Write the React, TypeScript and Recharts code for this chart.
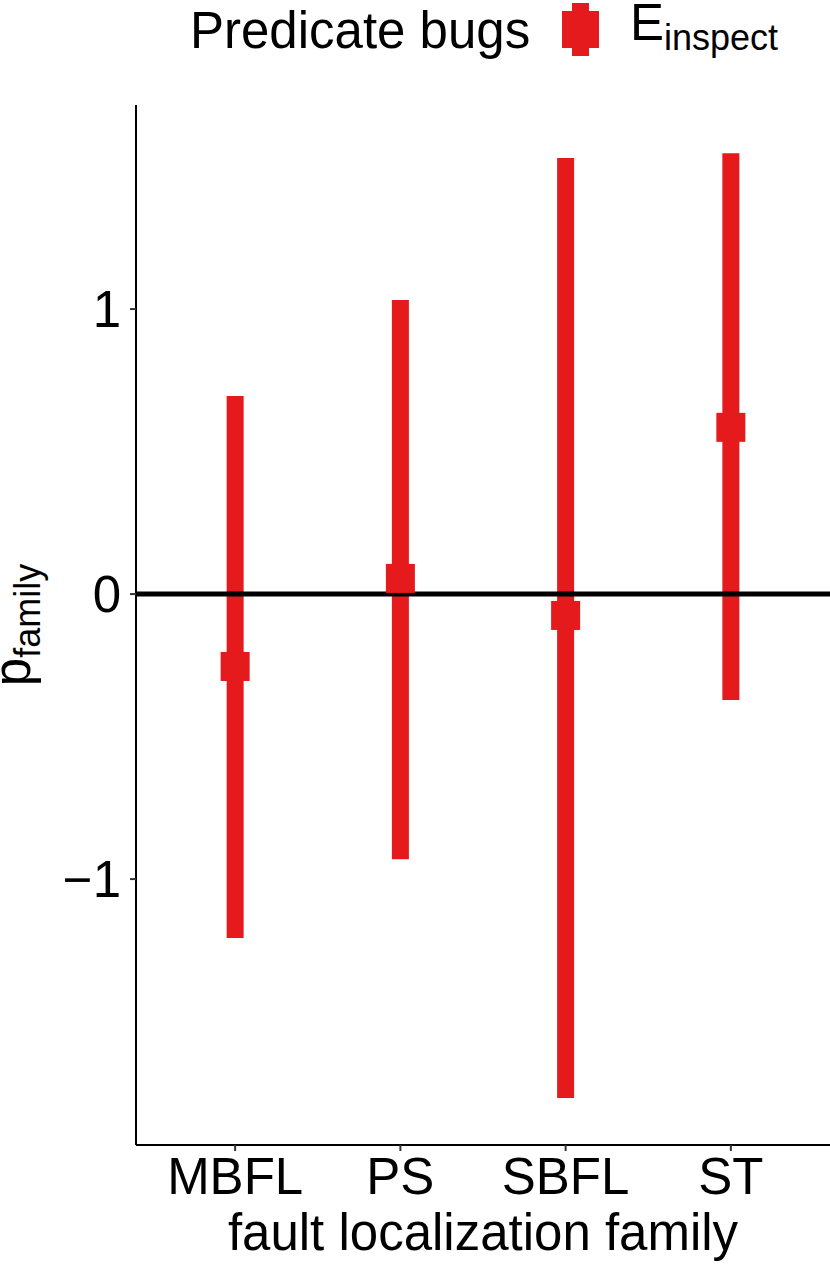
import React from 'react'
import { ComposedChart, Scatter, ErrorBar, XAxis, YAxis, ReferenceLine, Legend } from 'recharts'

const families = ['MBFL', 'PS', 'SBFL', 'ST']
const estimates = [-0.254, 0.055, -0.075, 0.585]
const lower = [-1.207, -0.93, -1.768, -0.372]
const upper = [0.695, 1.032, 1.53, 1.547]
const yTicks = [-1, 0, 1]

const RED = '#E41A1C'
const FONT = '"Liberation Sans", Arial, Helvetica, sans-serif'

const chartData = families.map((name, i) => ({
  x: i + 1,
  name,
  est: estimates[i],
  err: [estimates[i] - lower[i], upper[i] - estimates[i]]
}))

const SquarePoint = (props: any) => {
  const { cx, cy } = props
  if (cx == null || cy == null) return null
  return <rect x={cx - 14.5} y={cy - 14.5} width={29} height={29} fill={RED} />
}

const YTitle = (props: any) => {
  const vb = props.viewBox || { y: 105, height: 1040 }
  const x = 30
  const y = vb.y + vb.height / 2
  return (
    <text
      x={x}
      y={y}
      transform={`rotate(-90, ${x}, ${y})`}
      textAnchor="middle"
      fontFamily={FONT}
      fontSize={51}
      fill="#000"
    >
      <tspan>p</tspan>
      <tspan fontSize={36} dy={10}>family</tspan>
    </text>
  )
}

const XTitle = (props: any) => {
  const vb = props.viewBox || { x: 136, width: 694 }
  return (
    <text x={vb.x + vb.width / 2} y={1250} textAnchor="middle" fontFamily={FONT} fontSize={51} fill="#000">
      fault localization family
    </text>
  )
}

const LegendBox = () => (
  <svg width={830} height={70} style={{ display: 'block' }}>
    <text x={190} y={48} fontFamily={FONT} fontSize={51} fill="#000">Predicate bugs</text>
    <rect x={572} y={3} width={17} height={53} fill={RED} />
    <rect x={562} y={11} width={37} height={37} fill={RED} />
    <text x={630} y={40} fontFamily={FONT} fontSize={51} fill="#000">
      <tspan>E</tspan>
      <tspan fontSize={36} dy={10}>inspect</tspan>
    </text>
  </svg>
)

export default function App() {
  return (
    <div style={{ position: 'absolute', left: 0, top: 0, width: 830, height: 1264, background: '#fff' }}>
      <ComposedChart width={830} height={1264} data={chartData} margin={{ top: 105, right: 0, bottom: 0, left: 0 }}>
        <XAxis
          type="number"
          dataKey="x"
          domain={[0.4, 4.6]}
          ticks={[1, 2, 3, 4]}
          tickFormatter={(v: number) => families[v - 1]}
          height={119}
          axisLine={{ stroke: '#000', strokeWidth: 2 }}
          tickLine={{ stroke: '#333', strokeWidth: 2 }}
          tickSize={6}
          tickMargin={7}
          tick={{ fill: '#000', fontSize: 51, fontFamily: FONT }}
          allowDataOverflow
          label={<XTitle />}
        />
        <YAxis
          type="number"
          domain={[-1.933, 1.716]}
          ticks={yTicks}
          tickFormatter={(v: number) => (v < 0 ? '\u2212' + Math.abs(v) : String(v))}
          width={136}
          axisLine={{ stroke: '#000', strokeWidth: 2 }}
          tickLine={{ stroke: '#333', strokeWidth: 2 }}
          tickSize={6}
          tickMargin={9}
          tick={{ fill: '#000', fontSize: 51, fontFamily: FONT }}
          allowDataOverflow
          label={<YTitle />}
        />
        <Legend
          layout="horizontal"
          verticalAlign="middle"
          align="center"
          wrapperStyle={{ top: 0, left: 0, width: 830 }}
          content={() => <LegendBox />}
        />
        <Scatter dataKey="est" fill={RED} shape={<SquarePoint />} isAnimationActive={false}>
          <ErrorBar dataKey="err" direction="y" width={0} strokeWidth={17} stroke={RED} isAnimationActive={false} />
        </Scatter>
        <ReferenceLine y={0} stroke="#000" strokeWidth={5} />
      </ComposedChart>
    </div>
  )
}
